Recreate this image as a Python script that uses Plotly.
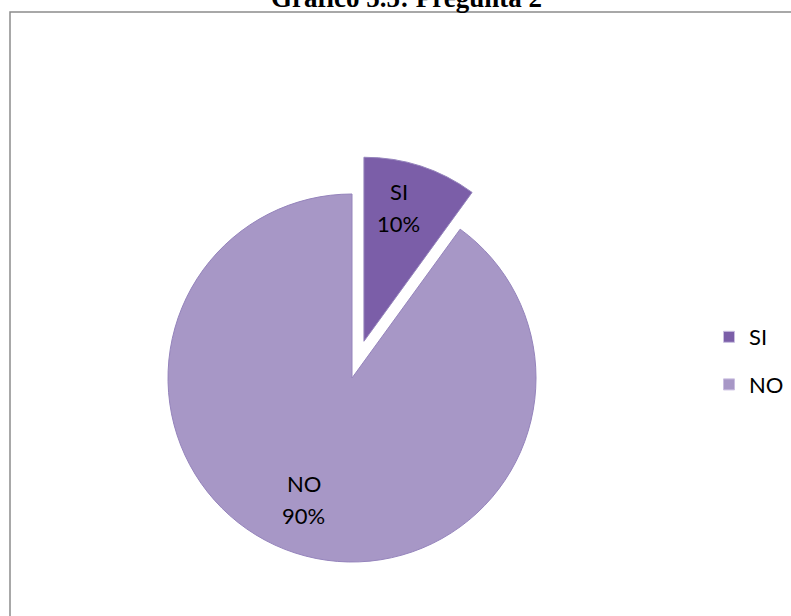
import math
import plotly.graph_objects as go

# Survey answers for "Pregunta 2"
categories = ["SI", "NO"]
shares = [10, 90]
slice_colors = ["#7B5EA8", "#A797C6"]
pull_out = [0.21, 0]
label_radius = [0.75, 0.71]   # radial position of the in-slice labels (fraction of radius)

title_text = "Gráfico 5.5: Pregunta 2"

W, H = 791, 616
ml, mt = 10, 12
pw, ph = W - ml, H - mt

# pie centre and outer radius in pixels
cx, cy, r = 352, 378, 184
half = r * (1 + max(pull_out))
dom_x = [(cx - ml - half) / pw, (cx - ml + half) / pw]
dom_y = [1 - (cy - mt + half) / ph, 1 - (cy - mt - half) / ph]


def to_paper(px, py):
    return (px - ml) / pw, 1 - (py - mt) / ph


label_font = dict(family="Lato, Carlito, Calibri, sans-serif", size=22, color="#000000")

fig = go.Figure(
    go.Pie(
        labels=categories,
        values=shares,
        sort=False,
        direction="clockwise",
        rotation=0,
        pull=pull_out,
        marker=dict(colors=slice_colors, line=dict(color="#9584BC", width=1)),
        textinfo="none",
        domain=dict(x=dom_x, y=dom_y),
        hoverinfo="label+percent",
        showlegend=False,
    )
)

# legend entries (square swatches) for each category
for i, (cat, col) in enumerate(zip(categories, slice_colors)):
    fig.add_trace(
        go.Scatter(
            x=[None], y=[None], mode="markers", name=cat,
            legendgroup=cat,
            marker=dict(symbol="square", size=11, color=col,
                        line=dict(color="#C9BEE0", width=1)),
        )
    )

# category / percentage labels inside each slice, placed along the slice's mid-angle
annotations = []
total = sum(shares)
cum = 0
for cat, val, pull, kr in zip(categories, shares, pull_out, label_radius):
    mid = 2 * math.pi * (cum + val / 2) / total
    cum += val
    ux, uy = math.sin(mid), -math.cos(mid)
    px = cx + (pull * r + kr * r) * ux
    py = cy + (pull * r + kr * r) * uy
    xp, yp = to_paper(px, py)
    pct = f"{round(100 * val / total)}%"
    for txt, dy in ((cat, 19), (pct, -13)):
        annotations.append(dict(
            text=txt, xref="paper", yref="paper", x=xp, y=yp,
            xanchor="center", yanchor="middle", xshift=-8, yshift=dy,
            showarrow=False, font=label_font,
        ))

annotations.append(dict(
    text="<b>" + title_text + "</b>",
    xref="paper", yref="paper",
    x=(406 - ml) / pw, y=1,
    xanchor="center", yanchor="bottom",
    yshift=-3,
    showarrow=False,
    font=dict(family="Liberation Serif, Times New Roman, serif", size=27, color="#000000"),
))

fig.update_layout(
    width=W,
    height=H,
    margin=dict(l=ml, r=0, t=mt, b=0, autoexpand=False),
    paper_bgcolor="#FFFFFF",
    plot_bgcolor="rgba(0,0,0,0)",
    xaxis=dict(visible=False),
    yaxis=dict(visible=False),
    showlegend=True,
    legend=dict(
        x=(709 - ml) / pw,
        y=1 - (316 - mt) / ph,
        xanchor="left",
        yanchor="top",
        font=dict(family="Lato, Carlito, Calibri, sans-serif", size=22, color="#000000"),
        itemwidth=30,
        tracegroupgap=16,
        bgcolor="rgba(0,0,0,0)",
    ),
    shapes=[
        dict(
            type="rect", xref="paper", yref="paper",
            x0=0, x1=1.02, y0=-0.02, y1=1,
            line=dict(color="#8C8C8C", width=1.5),
            fillcolor="rgba(0,0,0,0)",
        )
    ],
    annotations=annotations,
)

fig.write_html("out.html")
